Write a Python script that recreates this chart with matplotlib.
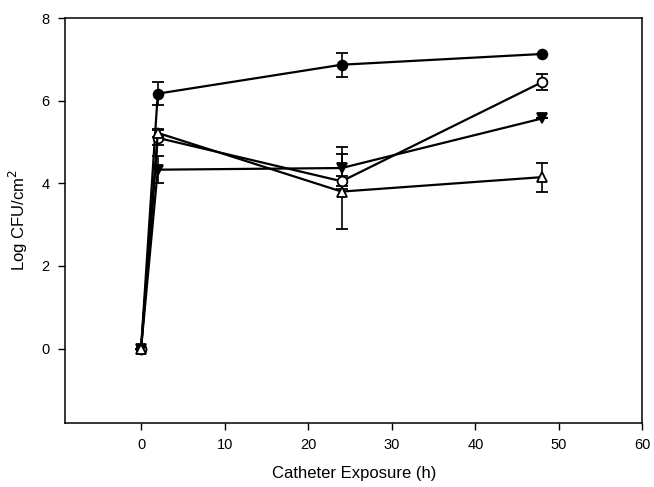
import matplotlib
matplotlib.use("Agg")
import matplotlib.pyplot as plt

plt.rcParams['font.family'] = ['Liberation Sans', 'DejaVu Sans']

# time points (h)
hours = [0, 2, 24, 48]

# series values (log CFU/cm2) and error bars
filled_circle = [0, 6.17, 6.87, 7.13]
filled_circle_err = [0, 0.28, 0.29, 0]

open_circle = [0, 5.10, 4.05, 6.45]
open_circle_err = [0, 0.18, 0.12, 0.19]

filled_tri = [0, 4.33, 4.37, 5.57]
filled_tri_err = [0, 0.32, 0.50, 0]

open_tri = [0, 5.22, 3.80, 4.15]
open_tri_err = [0, 0.10, 0.90, 0.35]

series = [
    (filled_circle, filled_circle_err, 'o', 'black'),
    (open_circle, open_circle_err, 'o', 'white'),
    (filled_tri, filled_tri_err, 'v', 'black'),
    (open_tri, open_tri_err, '^', 'white'),
]

fig = plt.figure(figsize=(6.54, 4.87), dpi=100)
ax = fig.add_axes([0.0994, 0.1314, 0.8830, 0.8316])

for vals, errs, mk, face in series:
    ax.errorbar(hours, vals, yerr=errs, color='black', lw=1.6,
                marker=mk, markersize=7, markerfacecolor=face,
                markeredgecolor='black', markeredgewidth=1.3,
                ecolor='black', elinewidth=1.2, capsize=4.5, capthick=1.2)

ax.set_xlim(-9.1, 60)
ax.set_ylim(-1.8, 8)
ax.set_xticks(range(0, 61, 10))
ax.set_yticks([0, 2, 4, 6, 8])
ax.tick_params(direction='out', length=5, width=1, labelsize=10.5, pad=6,
               top=False, right=False)
for s in ax.spines.values():
    s.set_linewidth(1.1)

ax.set_xlabel('Catheter Exposure (h)', fontsize=12, labelpad=10)
ax.set_ylabel('Log CFU/cm$^2$', fontsize=12, labelpad=8)

fig.savefig('out.png', dpi=100)
